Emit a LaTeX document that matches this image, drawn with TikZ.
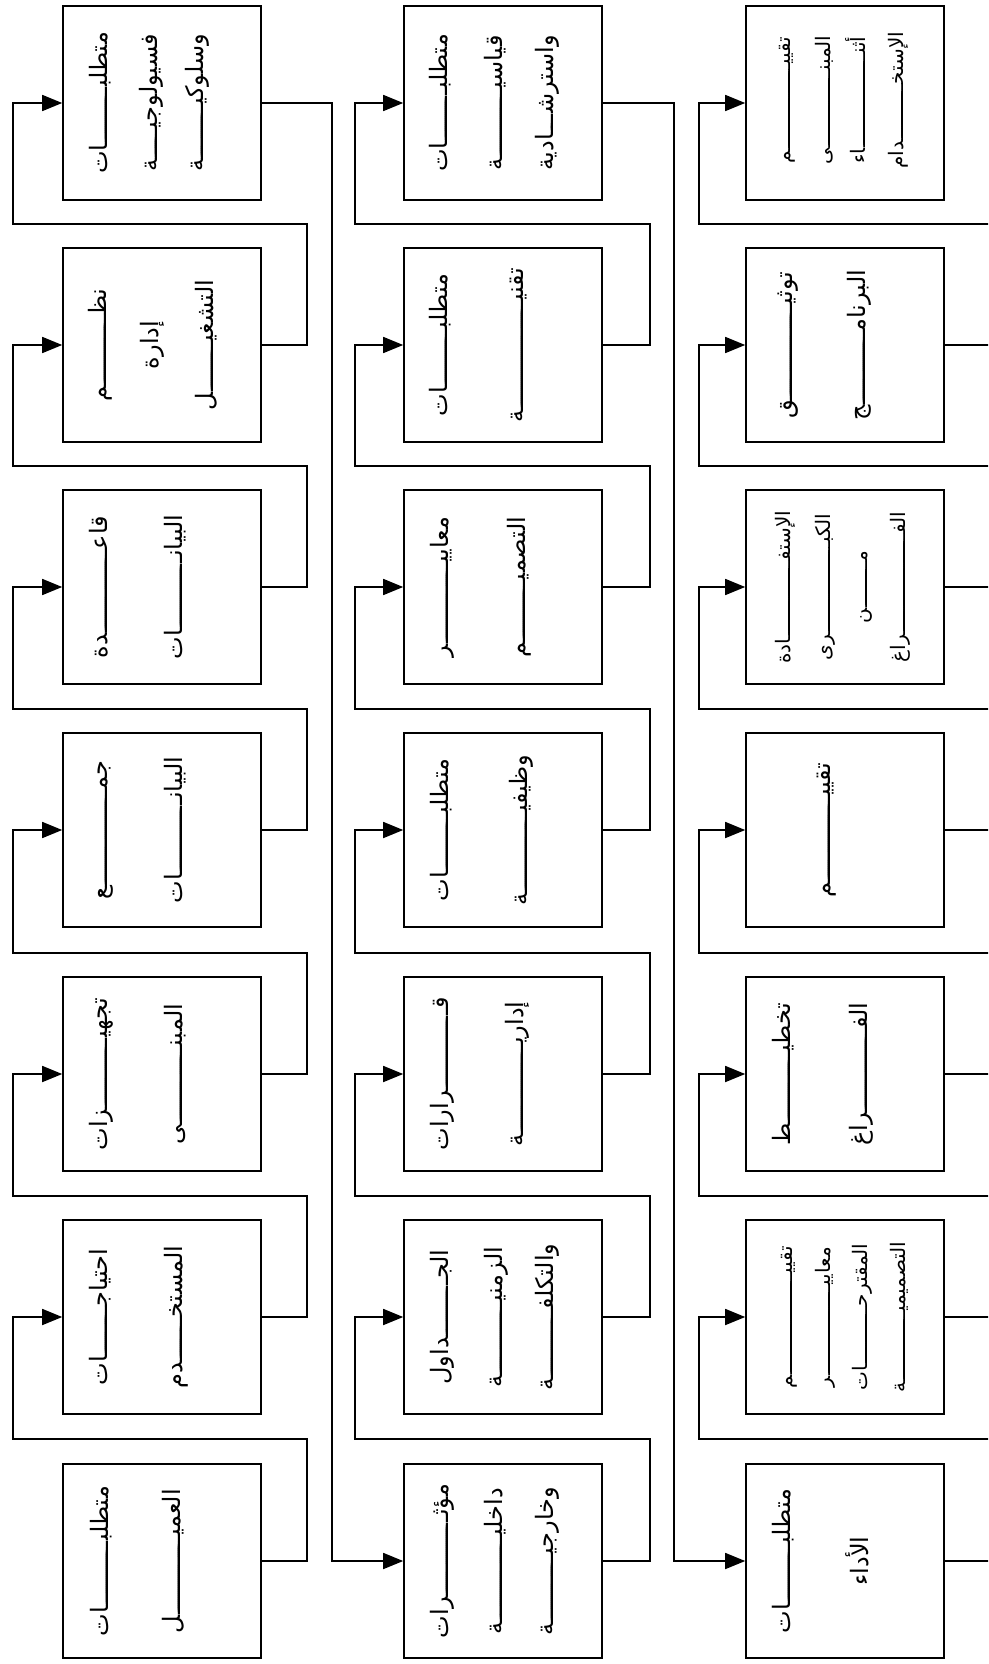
\documentclass[tikz,border=0pt]{standalone}
\usepackage{fontspec}
\usetikzlibrary{arrows.meta}
\newfontfamily\arabicfont[Script=Arabic]{DejaVu Sans}
\TeXXeTstate=1
% stretched Arabic word: target width, start part, end part
\newcommand\kw[3]{\hbox to #1pt{\beginR#2\xleaders\hbox to 2pt{ـ\hss}\hfill#3\endR}}
\newcommand\pw[1]{\hbox{\beginR#1\endR}}
\tikzset{
  box/.style={draw, line width=1.6pt, minimum width=198pt, minimum height=194pt, inner sep=0pt},
  txt/.style={rotate=90, anchor=base, inner sep=0pt, font=\arabicfont\fontsize{24}{28}\selectfont},
  txs/.style={txt, font=\arabicfont\fontsize{20}{24}\selectfont},
  conn/.style={line width=1.6pt},
  arr/.style={conn, -{Triangle[length=20pt,width=16pt]}}
}
\begin{document}
\begin{tikzpicture}[x=1pt,y=-1pt]
\useasboundingbox (0,0) rectangle (988,1664);
\fill[white] (0,0) rectangle (988,1664);
\clip (0,0) rectangle (988,1664);
% ---------- column 1 ----------
\node[box] (c1b1) at (162,1561) {};
\node[box] (c1b2) at (162,1317) {};
\node[box] (c1b3) at (162,1074) {};
\node[box] (c1b4) at (162,830) {};
\node[box] (c1b5) at (162,587) {};
\node[box] (c1b6) at (162,345) {};
\node[box] (c1b7) at (162,103) {};
% ---------- column 2 ----------
\node[box] (c2b1) at (503,1561) {};
\node[box] (c2b2) at (503,1317) {};
\node[box] (c2b3) at (503,1074) {};
\node[box] (c2b4) at (503,830) {};
\node[box] (c2b5) at (503,587) {};
\node[box] (c2b6) at (503,345) {};
\node[box] (c2b7) at (503,103) {};
% ---------- column 3 ----------
\node[box] (c3b1) at (845,1561) {};
\node[box] (c3b2) at (845,1317) {};
\node[box] (c3b3) at (845,1074) {};
\node[box] (c3b4) at (845,830) {};
\node[box] (c3b5) at (845,587) {};
\node[box] (c3b6) at (845,345) {};
\node[box] (c3b7) at (845,103) {};
% ---------- texts column 1 ----------
\node[txt] (t11a) at (108,1561) {\kw{150}{متطلبـ}{ـات}};
\node[txt] (t11b) at (180,1561) {\kw{144}{العميـ}{ـل}};
\node[txt] (t12a) at (107,1317) {\kw{137}{احتياجـ}{ـات}};
\node[txt] (t12b) at (182,1317) {\kw{143}{المستخـ}{ـدم}};
\node[txt] (t13a) at (107,1074) {\kw{153}{تجهيـ}{ـزات}};
\node[txt] (t13b) at (182,1074) {\kw{140}{المبنـ}{ـى}};
\node[txt] (t14a) at (107,830) {\kw{138}{جمـ}{ـع}};
\node[txt] (t14b) at (182,830) {\kw{147}{البيانـ}{ـات}};
\node[txt] (t15a) at (107,587) {\kw{142}{قاعـ}{ـدة}};
\node[txt] (t15b) at (182,587) {\kw{145}{البيانـ}{ـات}};
\node[txt] (t16a) at (106,345) {\kw{113}{نظـ}{ـم}};
\node[txt] (t16b) at (158,345) {\pw{إدارة}};
\node[txt] (t16c) at (213,345) {\kw{130}{التشغيـ}{ـل}};
\node[txt] (t17a) at (107,103) {\kw{142}{متطلبـ}{ـات}};
\node[txt] (t17b) at (157,103) {\kw{138}{فسيولوجيـ}{ـة}};
\node[txt] (t17c) at (203,103) {\kw{138}{وسلوكيـ}{ـة}};
% ---------- texts column 2 ----------
\node[txt] (t21a) at (448,1561) {\kw{154}{مؤثـ}{ـرات}};
\node[txt] (t21b) at (502,1561) {\kw{146}{داخليـ}{ـة}};
\node[txt] (t21c) at (553,1561) {\kw{148}{وخارجيـ}{ـة}};
\node[txt] (t22a) at (448,1317) {\kw{135}{الجـ}{ـداول}};
\node[txt] (t22b) at (502,1317) {\kw{140}{الزمنيـ}{ـة}};
\node[txt] (t22c) at (553,1317) {\kw{147}{والتكلفـ}{ـة}};
\node[txt] (t23a) at (448,1074) {\kw{153}{قـ}{ـرارات}};
\node[txt] (t23b) at (523,1074) {\kw{145}{إداريـ}{ـة}};
\node[txt] (t24a) at (448,830) {\kw{143}{متطلبـ}{ـات}};
\node[txt] (t24b) at (527,830) {\kw{151}{وظيفيـ}{ـة}};
\node[txt] (t25a) at (448,587) {\kw{140}{معاييـ}{ـر}};
\node[txt] (t25b) at (525,587) {\kw{140}{التصميـ}{ـم}};
\node[txt] (t26a) at (447,345) {\kw{143}{متطلبـ}{ـات}};
\node[txt] (t26b) at (523,345) {\kw{155}{تقنيـ}{ـة}};
\node[txt] (t27a) at (447,103) {\kw{138}{متطلبـ}{ـات}};
\node[txt] (t27b) at (502,103) {\kw{135}{قياسيـ}{ـة}};
\node[txt] (t27c) at (553,103) {\kw{136}{واسترشـ}{ـادية}};
% ---------- texts column 3 ----------
\node[txt] (t31a) at (790,1561) {\kw{145}{متطلبـ}{ـات}};
\node[txt] (t31b) at (868,1561) {\pw{الأداء}};
\node[txs] (t32a) at (792,1317) {\kw{142}{تقييـ}{ـم}};
\node[txs] (t32b) at (830,1317) {\kw{140}{معاييـ}{ـر}};
\node[txs] (t32c) at (867,1317) {\kw{147}{المقترحـ}{ـات}};
\node[txs] (t32d) at (905,1317) {\kw{151}{التصميميـ}{ـة}};
\node[txt] (t33a) at (790,1074) {\kw{143}{تخطيـ}{ـط}};
\node[txt] (t33b) at (867,1074) {\kw{143}{الفـ}{ـراغ}};
\node[txt] (t34a) at (830,830) {\kw{135}{تقييـ}{ـم}};
\node[txs] (t35a) at (790,587) {\kw{153}{الإستفـ}{ـادة}};
\node[txs] (t35b) at (830,587) {\kw{147}{الكبـ}{ـرى}};
\node[txs] (t35c) at (867,587) {\kw{72}{مـ}{ـن}};
\node[txs] (t35d) at (905,587) {\kw{150}{الفـ}{ـراغ}};
\node[txt] (t36a) at (792,345) {\kw{147}{توثيـ}{ـق}};
\node[txt] (t36b) at (865,345) {\kw{150}{البرنامـ}{ـج}};
\node[txs] (t37a) at (790,100) {\kw{127}{تقييـ}{ـم}};
\node[txs] (t37b) at (830,100) {\kw{129}{المبنـ}{ـى}};
\node[txs] (t37c) at (865,100) {\kw{127}{أثنـ}{ـاء}};
\node[txs] (t37d) at (903,100) {\kw{137}{الإستخـ}{ـدام}};
% ---------- connectors column 1 ----------
\draw[arr] (c1b1.east) -- (307,1561) |- (13,1439) |- (c1b2.west);
\draw[arr] (c1b2.east) -- (307,1317) |- (13,1196) |- (c1b3.west);
\draw[arr] (c1b3.east) -- (307,1074) |- (13,953) |- (c1b4.west);
\draw[arr] (c1b4.east) -- (307,830) |- (13,709) |- (c1b5.west);
\draw[arr] (c1b5.east) -- (307,587) |- (13,466) |- (c1b6.west);
\draw[arr] (c1b6.east) -- (307,345) |- (13,224) |- (c1b7.west);
\draw[arr] (c1b7.east) -- (332,103) |- (c2b1.west);
% ---------- connectors column 2 ----------
\draw[arr] (c2b1.east) -- (650,1561) |- (355,1439) |- (c2b2.west);
\draw[arr] (c2b2.east) -- (650,1317) |- (355,1196) |- (c2b3.west);
\draw[arr] (c2b3.east) -- (650,1074) |- (355,953) |- (c2b4.west);
\draw[arr] (c2b4.east) -- (650,830) |- (355,709) |- (c2b5.west);
\draw[arr] (c2b5.east) -- (650,587) |- (355,466) |- (c2b6.west);
\draw[arr] (c2b6.east) -- (650,345) |- (355,224) |- (c2b7.west);
\draw[arr] (c2b7.east) -- (674,103) |- (c3b1.west);
% ---------- connectors column 3 (loop beyond the cut edge) ----------
\draw[arr] (c3b1.east) -- (1010,1561) |- (699,1439) |- (c3b2.west);
\draw[arr] (c3b2.east) -- (1010,1317) |- (699,1196) |- (c3b3.west);
\draw[arr] (c3b3.east) -- (1010,1074) |- (699,953) |- (c3b4.west);
\draw[arr] (c3b4.east) -- (1010,830) |- (699,709) |- (c3b5.west);
\draw[arr] (c3b5.east) -- (1010,587) |- (699,466) |- (c3b6.west);
\draw[arr] (c3b6.east) -- (1010,345) |- (699,224) |- (c3b7.west);
\end{tikzpicture}
\end{document}
